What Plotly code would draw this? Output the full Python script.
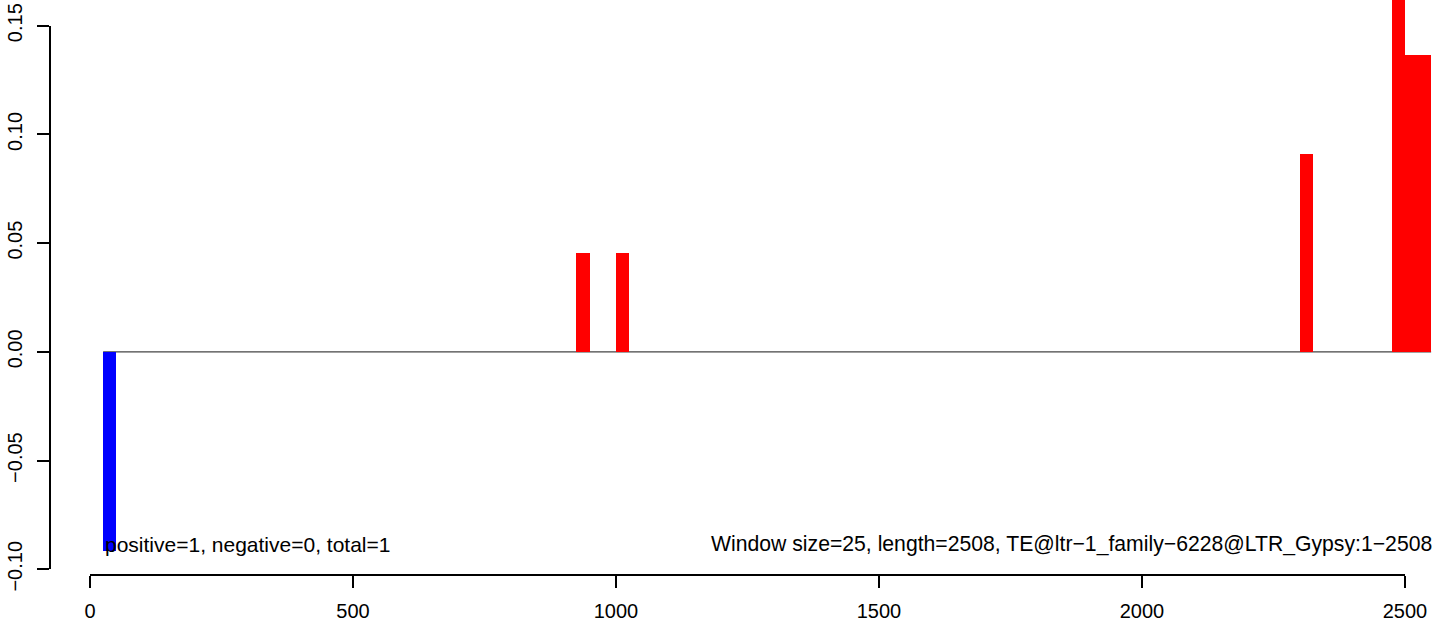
# Imports

import plotly.graph_objs as go

# Window counts along the TE (window size 25)

window_start = [25, 925, 1000, 2300, 2475, 2500, 2525]
window_size = 25
window_value = [-0.0918, 0.0455, 0.0455, 0.0909, 0.1818, 0.1364, 0.1364]

x_ticks = [0, 500, 1000, 1500, 2000, 2500]
y_ticks = [-0.10, -0.05, 0.00, 0.05, 0.10, 0.15]
y_tick_text = ["\u22120.10", "\u22120.05", "0.00", "0.05", "0.10", "0.15"]

left_note = "positive=1, negative=0, total=1"
right_note = "Window size=25, length=2508, TE@ltr\u22121_family\u22126228@LTR_Gypsy:1\u22122508"

# Setting basic graph appearance
W, H = 1449, 623
FONT = "Liberation Sans, Arial, Helvetica, sans-serif"

centers = [s + window_size / 2 for s in window_start]
colors = ["#0000FF" if v < 0 else "#FF0000" for v in window_value]

fig = go.Figure()
fig.add_trace(go.Bar(x=centers, y=window_value, width=window_size,
                     marker=dict(color=colors, line=dict(width=0)),
                     showlegend=False, hoverinfo="skip"))

# thin baseline under the windows
fig.add_shape(type="line", xref="x", yref="y",
              x0=window_start[0], x1=window_start[-1] + window_size, y0=0, y1=0,
              line=dict(color="#444444", width=1.2), layer="below")

# dummy trace so the R-style tick axes get drawn
fig.add_trace(go.Scatter(x=[None], y=[None], xaxis="x2", yaxis="y2",
                         showlegend=False, hoverinfo="skip"))

fig.add_annotation(x=window_start[0], y=-0.0885, text=left_note, showarrow=False,
                   xanchor="left", yanchor="middle", xref="x", yref="y",
                   font=dict(size=21, color="black", family=FONT))
fig.add_annotation(x=window_start[-1] + window_size + 6, y=-0.0885, text=right_note, showarrow=False,
                   xanchor="right", yanchor="middle", xref="x", yref="y",
                   font=dict(size=21.2, color="black", family=FONT))

tick_style = dict(showline=True, linecolor="black", linewidth=1.5, ticks="outside",
                  ticklen=12, tickwidth=1.5, tickcolor="black", showgrid=False,
                  zeroline=False, tickfont=dict(size=20, color="black", family=FONT),
                  fixedrange=True, automargin=False)

fig.update_layout(
    width=W, height=H,
    margin=dict(l=0, r=0, t=0, b=0, pad=0, autoexpand=False),
    paper_bgcolor="white", plot_bgcolor="rgba(0,0,0,0)",
    bargap=0,
    xaxis=dict(domain=[0, 1], range=[-171.1, 2584], visible=False, fixedrange=True),
    yaxis=dict(domain=[0, 1], range=[-0.1247, 0.16182], visible=False, fixedrange=True),
    xaxis2=dict(domain=[90 / W, 1405 / W], range=[x_ticks[0], x_ticks[-1]],
                anchor="free", position=(H - 575) / H, tickvals=x_ticks,
                ticklabelstandoff=6, **tick_style),
    yaxis2=dict(domain=[(H - 569.3) / H, (H - 25.7) / H], range=[y_ticks[0], y_ticks[-1]],
                anchor="free", position=50 / W, tickvals=y_ticks, ticktext=y_tick_text,
                tickangle=-90, ticklabelstandoff=7, **tick_style),
)

# drop the default page margin so the figure sits at the window corner
fig.write_html("out.html", config={"displayModeBar": False},
               post_script="document.body.style.margin='0px';document.body.style.overflow='hidden';")
